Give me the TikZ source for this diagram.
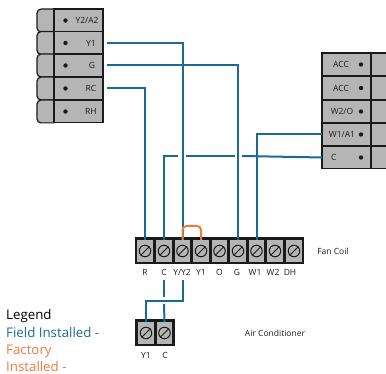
\documentclass[tikz,border=0pt]{standalone}
\usepackage{fontspec}
\setmainfont{Open Sans}
\definecolor{wireblue}{HTML}{1A6A91}
\definecolor{wireorange}{HTML}{EE7B3A}
\definecolor{termgray}{HTML}{B5B5B5}
\definecolor{inkdark}{HTML}{1A1A1A}
\tikzset{
  rowcell/.style={draw=inkdark,line width=1.2pt,fill=termgray,minimum width=49pt,minimum height=22.8pt,inner sep=0pt,outer sep=0pt},
  tabcell/.style={rowcell,minimum width=17pt},
  sidetab/.style={draw=inkdark,line width=1.2pt,fill=termgray},
  label/.style={font=\fontsize{8.5pt}{10pt}\selectfont,text=inkdark,inner sep=0pt},
  dot/.style={circle,fill=inkdark,minimum size=4.4pt,inner sep=0pt},
  terminal/.style={fill=termgray,minimum width=15.6pt,minimum height=22pt,inner sep=0pt,outer sep=0pt},
  screw/.style={circle,draw=inkdark,line width=1pt,minimum size=11.5pt,inner sep=0pt},
  wire/.style={draw=wireblue,line width=2pt},
  jumper/.style={draw=wireorange,line width=2pt,rounded corners=4pt},
  legendtext/.style={font=\fontsize{13.3pt}{15pt}\selectfont,inner sep=0pt,anchor=base west}
}
\newcommand{\termat}[3]{%
  \node[terminal] (#1) at (#2,#3) {};
  \node[screw] (#1s) at (#2,#3) {};
  \draw[inkdark,line width=1pt] (#1s.south west) -- (#1s.north east);
}
\begin{document}
\begin{tikzpicture}[x=1pt,y=-1pt]
\useasboundingbox (0,0) rectangle (386,374);
% left block
\foreach \yy in {20.5,43,65.5,88.5,111.5}{
  \draw[sidetab] (54,\yy-11.4) -- (41,\yy-11.4) arc[start angle=90,end angle=180,radius=4pt] -- (37,\yy+7.4) arc[start angle=180,end angle=270,radius=4pt] -- (54,\yy+11.4) -- cycle;
}
\node[rowcell] (y2) at (78.5,20.5) {};
\node[rowcell] (y1) at (78.5,43) {};
\node[rowcell] (g) at (78.5,65.5) {};
\node[rowcell] (rc) at (78.5,88.5) {};
\node[rowcell] (rh) at (78.5,111.5) {};
\foreach \n/\t/\yy/\xx in {y2/Y2\slash A2/20.5/87,y1/Y1/43/91,g/G/65.5/92,rc/RC/88.5/91,rh/RH/111.5/91}{
  \node[dot] (\n d) at (65.5,\yy) {};
  \node[label] (\n t) at (\xx,\yy) {\t};
}
% right block
\node[rowcell] (acc1) at (346.5,64.5) {};
\node[rowcell] (acc2) at (346.5,88) {};
\node[rowcell] (w2) at (346.5,111.5) {};
\node[rowcell] (w1) at (346.5,134.5) {};
\node[rowcell] (cr) at (346.5,157.5) {};
\foreach \n/\yy in {acc1/64.5,acc2/88,w2/111.5,w1/134.5,cr/157.5}{
  \node[tabcell,anchor=west,minimum width=20pt] (\n x) at (371,\yy) {};
  \node[dot] (\n d) at (361,\yy) {};
}
\node[label] (acc1t) at (341,64.5) {ACC};
\node[label] (acc2t) at (341,88) {ACC};
\node[label] (w2t) at (342,111.5) {W2/O};
\node[label] (w1t) at (342,134.5) {W1/A1};
\node[label,anchor=west] (crt) at (331,157.5) {C};
% fan coil strip
\node[fill=inkdark,minimum width=169pt,minimum height=27pt,inner sep=0pt] (fanbar) at (219.5,250.5) {};
\termat{fr}{145}{251}
\termat{fc}{164}{251}
\termat{fy}{182.5}{251}
\termat{fo1}{201}{251}
\termat{fo}{219.5}{251}
\termat{fg}{238}{251}
\termat{fw}{256.5}{251}
\termat{fww}{275}{251}
\termat{fdh}{294}{251}
\foreach \n/\t/\xx in {R/R/145,C/C/164,Y/Y\slash Y2/182,Yy/Y1/201,O/O/219.5,G/G/237,W/W1/255,Ww/W2/273,D/DH/290}{
  \node[label] (lb\n) at (\xx,272.5) {\t};
}
\node[label] (fantext) at (333,251) {Fan Coil};
% air conditioner strip
\node[fill=inkdark,minimum width=40pt,minimum height=27pt,inner sep=0pt] (acbar) at (155,332.5) {};
\termat{ay}{146}{333}
\termat{ac}{164.5}{333}
\node[label] (lbay) at (146,355) {Y1};
\node[label] (lbac) at (165,355) {C};
\node[label] (actext) at (275,333) {Air Conditioner};
% field wires
\coordinate (cgapa) at (178,156);
\coordinate (cgapb) at (186,156);
\coordinate (cgapc) at (235,156);
\coordinate (cgapd) at (242,156);
\draw[wire] ([xshift=4pt]y1.east) -- (fy.north |- y1.east) -- (fy.north);
\draw[wire] ([xshift=4pt]g.east) -- (fg.north |- g.east) -- (fg.north);
\draw[wire] ([xshift=4pt]rc.east) -- (fr.north |- rc.east) -- (fr.north);
\draw[wire] (w1.west) -- (fw.north |- w1.west) -- (fw.north);
\draw[wire] (cr.west) -- (cgapd);
\draw[wire] (cgapc) -- (cgapb);
\draw[wire] (cgapa) -- (fc.north |- cgapa) -- (fc.north);
% lower wires
\coordinate (lowa) at (164,280);
\coordinate (lowb) at (164,297);
\coordinate (lowc) at (164,304);
\coordinate (lowd) at (183,280);
\coordinate (lowe) at (183,301);
\draw[wire] (lowa) -- (lowb);
\draw[wire] (lowc) -- (ac.north);
\draw[wire] (lowd) -- (lowe) -- (ay.north |- lowe) -- (ay.north);
% factory jumper
\draw[jumper] (fy.north) -- (fy.north |- 0,226) -- (fo1.north |- 0,226) -- (fo1.north);
% legend
\node[legendtext,text=black] (leg1) at (6,319.5) {Legend};
\node[legendtext,text=wireblue] (leg2) at (6,337.5) {Field Installed -};
\node[legendtext,text=wireorange] (leg3) at (6,355) {Factory};
\node[legendtext,text=wireorange] (leg4) at (6,372) {Installed -};
\end{tikzpicture}
\end{document}
